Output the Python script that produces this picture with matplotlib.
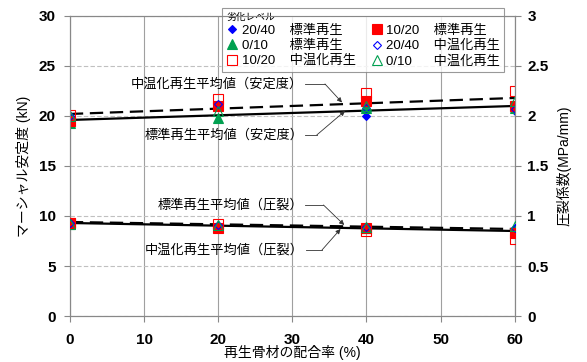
import matplotlib.pyplot as plt

plt.rcParams['font.family'] = ['Liberation Sans', 'Noto Sans CJK JP']

rates = [0, 20, 40, 60]

# マーシャル安定度 (kN)
stab_2040_std = [20.0, 21.0, 20.0, 20.5]
stab_1020_std = [19.5, 21.0, 21.5, 21.0]
stab_010_std = [19.3, 19.8, 20.8, 20.8]
stab_2040_warm = [20.0, 21.2, 20.8, 20.7]
stab_1020_warm = [20.1, 21.7, 22.3, 22.5]
stab_010_warm = [20.0, 20.5, 21.0, 21.5]

# 圧裂係数 (MPa/mm)
crack_2040_std = [0.93, 0.90, 0.88, 0.88]
crack_1020_std = [0.93, 0.88, 0.88, 0.83]
crack_010_std = [0.92, 0.90, 0.88, 0.85]
crack_2040_warm = [0.93, 0.91, 0.89, 0.88]
crack_1020_warm = [0.93, 0.92, 0.85, 0.77]
crack_010_warm = [0.92, 0.91, 0.89, 0.90]

# average lines
stab_avg_std = [19.6, 21.0]
stab_avg_warm = [20.2, 21.8]
crack_avg_std = [0.93, 0.85]
crack_avg_warm = [0.94, 0.87]
avg_x = [0, 60]

series = [  # (stab, crack, marker, face, edge, label)
    (stab_2040_std, crack_2040_std, 'D', 'blue', 'blue', '20/40    標準再生'),
    (stab_010_std, crack_010_std, '^', '#00a050', '#00a050', '0/10      標準再生'),
    (stab_1020_warm, crack_1020_warm, 's', 'none', 'red', '10/20    中温化再生'),
    (stab_1020_std, crack_1020_std, 's', 'red', 'red', '10/20    標準再生'),
    (stab_2040_warm, crack_2040_warm, 'D', 'none', 'blue', '20/40    中温化再生'),
    (stab_010_warm, crack_010_warm, '^', 'none', '#00a050', '0/10      中温化再生'),
]

fig = plt.figure(figsize=(5.87, 3.62), dpi=100)
ax = fig.add_axes([0.119, 0.127, 0.758, 0.829])
ax2 = ax.twinx()

ax.plot(avg_x, stab_avg_std, color='black', lw=1.6, zorder=3)
ax.plot(avg_x, stab_avg_warm, color='black', lw=1.6, ls=(0, (6, 3)), zorder=3)
ax2.plot(avg_x, crack_avg_std, color='black', lw=1.6, zorder=3)
ax2.plot(avg_x, crack_avg_warm, color='black', lw=1.6, ls=(0, (6, 3)), zorder=3)

handles = []
for stab, crack, m, fc, ec, lab in series:
    ms = 4.5 if m == 'D' else 6.5
    h, = ax.plot(rates, stab, ls='none', marker=m, mfc=fc, mec=ec, ms=ms, mew=0.8, label=lab, zorder=4)
    ax2.plot(rates, crack, ls='none', marker=m, mfc=fc, mec=ec, ms=ms, mew=0.8, zorder=4)
    handles.append(h)

ax.set_xlim(0, 60)
ax.set_ylim(0, 30)
ax2.set_ylim(0, 3)
ax.set_xticks(range(0, 61, 10))
ax.set_yticks(range(0, 31, 5))
ax2.set_yticks([0, 0.5, 1, 1.5, 2, 2.5, 3])
ax2.set_yticklabels(['0', '0.5', '1', '1.5', '2', '2.5', '3'])

for a in (ax, ax2):
    for lab in a.get_xticklabels() + a.get_yticklabels():
        lab.set_fontweight('bold')
        lab.set_fontsize(11)
    a.tick_params(color='#888888', length=4, width=0.8)
    for sp in a.spines.values():
        sp.set_color('#888888')
ax.tick_params(axis='x', pad=8)
ax2.tick_params(axis='y', pad=5)
ax.tick_params(axis='y', pad=6)

ax.yaxis.grid(True, ls=(0, (4, 2)), color='#c0c0c0', lw=0.8)
ax.xaxis.grid(True, ls='-', color='#a0a0a0', lw=0.8)
ax.set_axisbelow(True)

ax.set_xlabel('再生骨材の配合率 (%)', fontsize=10, labelpad=-1)
ax.set_ylabel('マーシャル安定度 (kN)', fontsize=10, labelpad=6)
ax2.set_ylabel('圧裂係数(MPa/mm)', fontsize=10, labelpad=6)

leg = ax.legend(handles=handles, ncol=2, loc='upper left', bbox_to_anchor=(0.328, 1.05),
                title='劣化レベル', fontsize=9.5, frameon=True, fancybox=False,
                handlelength=0.8, handletextpad=0.3, columnspacing=1.2,
                labelspacing=0.2, borderpad=0.35)
leg.get_title().set_fontsize(7)
leg._legend_box.align = 'left'
leg.get_frame().set_edgecolor('#808080')
leg.get_frame().set_linewidth(0.8)
leg.set_zorder(10)

# callouts: text, horizontal leader to bend, arrow to the line
callouts = [
    ('中温化再生平均値（安定度）', 31.5, 23.2, 34.4, 36.7, 21.35),
    ('標準再生平均値（安定度）', 31.5, 18.1, 33.3, 37.1, 20.5),
    ('標準再生平均値（圧裂）', 31.5, 11.1, 34.2, 37.0, 9.1),
    ('中温化再生平均値（圧裂）', 31.6, 6.6, 34.0, 36.5, 8.7),
]
for txt, tx, ty, bx, ax_, ay in callouts:
    ax.text(tx, ty, txt, fontsize=9.5, ha='right', va='center')
    ax.plot([tx + 0.2, bx], [ty, ty], color='#333333', lw=0.6, zorder=5)
    ax.annotate('', xy=(ax_, ay), xytext=(bx, ty),
                arrowprops=dict(arrowstyle='-|>', color='#333333', lw=0.6,
                                mutation_scale=7, shrinkA=0, shrinkB=0), zorder=5)

fig.savefig('out.png', dpi=100)
